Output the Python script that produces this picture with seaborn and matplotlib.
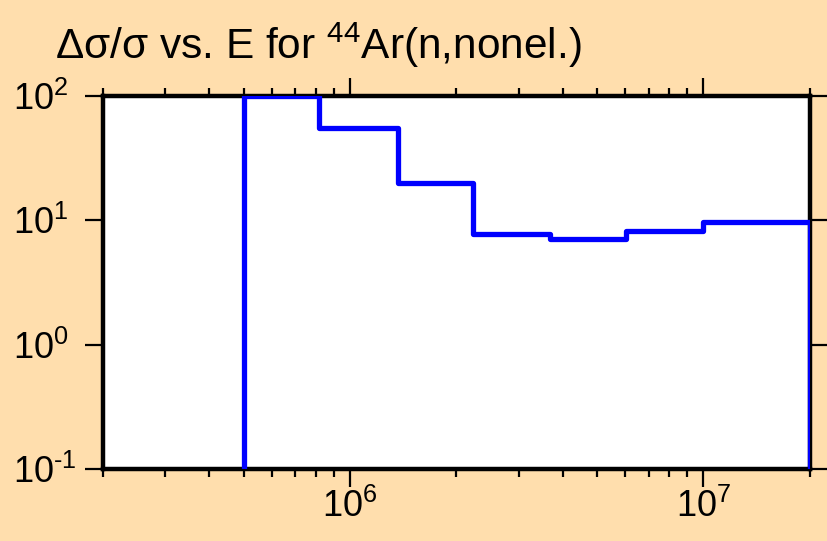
"""
plot.py — relative uncertainty vs. energy step plot for 44Ar(n,nonel.)
"""
import matplotlib
matplotlib.use("Agg")
import matplotlib.pyplot as plt
import matplotlib.ticker as mticker
import numpy as np
import pandas as pd
import seaborn as sns

# group boundaries (eV) and relative uncertainty (%) per group
E_EDGES = [5e5, 8.2e5, 1.37e6, 2.23e6, 3.68e6, 6.06e6, 1.0e7, 2.0e7]
DSIG = [100.0, 55.0, 20.0, 7.76, 7.03, 8.26, 9.75]
Y_FLOOR = 0.1

X_LIM = (2e5, 2e7)
Y_LIM = (0.1, 100)
Y_TICKS = [0.1, 1, 10, 100]
X_TICKS = [1e6, 1e7]

BG = "#FFDEAD"
LINE = "#0000FF"

sns.set_style("ticks")
plt.rcParams["font.family"] = ["Liberation Sans", "DejaVu Sans"]
plt.rcParams["mathtext.fontset"] = "custom"
plt.rcParams["mathtext.rm"] = "Liberation Sans"
plt.rcParams["mathtext.it"] = "Liberation Sans:italic"
plt.rcParams["axes.unicode_minus"] = False
plt.rcParams["text.color"] = "black"


def pow10(v, pos=None):
    # hyphen-style minus like the reference
    e = int(round(np.log10(v)))
    return r"10$^{\text{%d}}$" % e


# step path: rise from floor at first edge, drop to floor at last edge
xs = [E_EDGES[0]] + E_EDGES + [E_EDGES[-1]]
ys = [Y_FLOOR] + DSIG + [DSIG[-1], Y_FLOOR]
xs = xs[:len(ys)]
df = pd.DataFrame({"E": xs, "dsig": ys})

fig = plt.figure(figsize=(8.27, 5.41), dpi=100, facecolor=BG)
ax = fig.add_axes([0.1245, 0.1331, 0.979 - 0.1245, 0.8226 - 0.1331])
ax.set_facecolor("white")

sns.lineplot(data=df, x="E", y="dsig", estimator=None, sort=False,
             drawstyle="steps-post", color=LINE, linewidth=3.8, ax=ax,
             zorder=3)

ax.set_xscale("log")
ax.set_yscale("log")
ax.set_xlim(*X_LIM)
ax.set_ylim(*Y_LIM)
ax.set_xlabel("")
ax.set_ylabel("")

ax.xaxis.set_major_locator(mticker.FixedLocator(X_TICKS))
ax.xaxis.set_major_formatter(mticker.FuncFormatter(pow10))
ax.xaxis.set_minor_locator(mticker.LogLocator(base=10, subs=range(2, 10)))
ax.xaxis.set_minor_formatter(mticker.NullFormatter())
ax.yaxis.set_major_locator(mticker.FixedLocator(Y_TICKS))
ax.yaxis.set_major_formatter(mticker.FuncFormatter(pow10))
ax.yaxis.set_minor_locator(mticker.NullLocator())

for sp in ax.spines.values():
    sp.set_visible(True)
    sp.set_linewidth(3.2)
    sp.set_color("black")

ax.tick_params(axis="both", which="major", direction="out", length=13,
               width=1.6, colors="black", labelsize=26)
ax.tick_params(axis="both", which="minor", direction="out", length=6,
               width=1.6, colors="black")
ax.tick_params(axis="x", which="both", top=True, bottom=True, pad=1)
ax.tick_params(axis="y", which="both", left=True, right=True, pad=52)
plt.setp(ax.get_yticklabels(), ha="left")

fig.text(0.066, 0.891, r"Δσ/σ vs. E for $^{44}$Ar(n,nonel.)",
         fontsize=30.5, ha="left", va="baseline")

fig.savefig("out.png", dpi=100, facecolor=BG)
